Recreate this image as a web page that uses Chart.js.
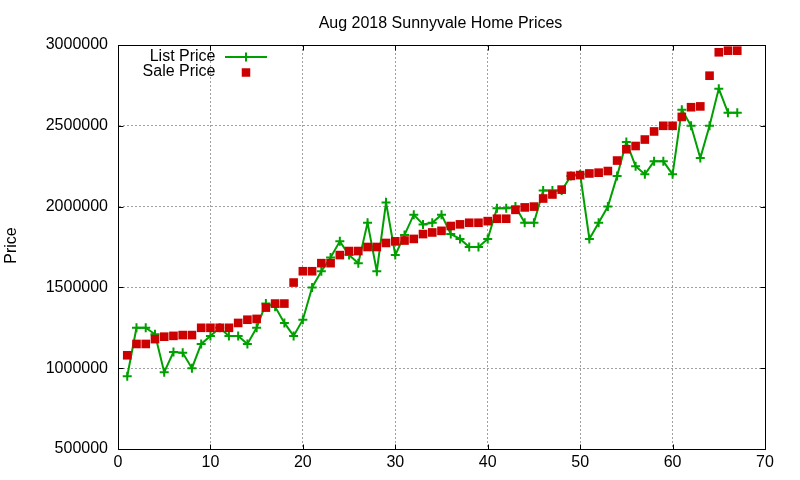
<!DOCTYPE html>
<html>
<head>
<meta charset="utf-8">
<script src="https://cdn.jsdelivr.net/npm/chart.js@4/dist/chart.umd.min.js"></script>
<style>
  body { margin: 0; background: #fff; }
</style>
</head>
<body>
<canvas id="chart" width="800" height="480"></canvas>
<script>
// chart data
const days = [1, 2, 3, 4, 5, 6, 7, 8, 9, 10, 11, 12, 13, 14, 15, 16, 17, 18, 19, 20,
  21, 22, 23, 24, 25, 26, 27, 28, 29, 30, 31, 32, 33, 34, 35, 36, 37, 38, 39, 40,
  41, 42, 43, 44, 45, 46, 47, 48, 49, 50, 51, 52, 53, 54, 55, 56, 57, 58, 59, 60,
  61, 62, 63, 64, 65, 66, 67];

const listPrice = [950000, 1250000, 1250000, 1210000, 975000, 1100000, 1095000, 1000000, 1150000, 1200000,
  1250000, 1200000, 1200000, 1150000, 1250000, 1400000, 1380000, 1280000, 1200000, 1300000,
  1500000, 1600000, 1685000, 1785000, 1700000, 1650000, 1900000, 1600000, 2025000, 1700000,
  1825000, 1950000, 1890000, 1900000, 1950000, 1830000, 1800000, 1750000, 1750000, 1800000,
  1990000, 1990000, 2000000, 1900000, 1900000, 2100000, 2100000, 2100000, 2190000, 2200000,
  1800000, 1900000, 2000000, 2190000, 2400000, 2250000, 2200000, 2280000, 2280000, 2200000,
  2600000, 2500000, 2300000, 2500000, 2730000, 2580000, 2580000];

const salePrice = [1080000, 1150000, 1150000, 1180000, 1195000, 1200000, 1205000, 1205000, 1250000, 1250000,
  1250000, 1250000, 1280000, 1300000, 1305000, 1375000, 1400000, 1400000, 1530000, 1600000,
  1600000, 1650000, 1650000, 1700000, 1725000, 1725000, 1750000, 1750000, 1775000, 1785000,
  1790000, 1800000, 1830000, 1840000, 1850000, 1880000, 1890000, 1900000, 1900000, 1910000,
  1925000, 1925000, 1980000, 1995000, 2000000, 2050000, 2075000, 2105000, 2190000, 2195000,
  2205000, 2210000, 2220000, 2285000, 2355000, 2375000, 2415000, 2465000, 2500000, 2500000,
  2555000, 2615000, 2620000, 2810000, 2955000, 2965000, 2965000];

const xTicks = [0, 10, 20, 30, 40, 50, 60, 70];
const yTicks = [500000, 1000000, 1500000, 2000000, 2500000, 3000000];

const chartTitle = 'Aug 2018 Sunnyvale Home Prices';
const yLabel = 'Price';
const seriesNames = ['List Price', 'Sale Price'];

// colors
const green = '#00a000';
const red = '#cc0000';
const gridColor = '#a0a0a0';
const font = 'Liberation Sans, Arial, sans-serif';

const toPoints = vals => vals.map((v, i) => ({ x: days[i], y: v }));

// gnuplot style frame, inward ticks, title, y label and key
const gnuplotDecor = {
  id: 'gnuplotDecor',
  afterDraw(chart) {
    const ctx = chart.ctx;
    const { left, right, top, bottom } = chart.chartArea;
    const xs = chart.scales.x, ys = chart.scales.y;
    const L = Math.round(left) + 0.5, R = Math.round(right) + 0.5;
    const T = Math.round(top) + 0.5, B = Math.round(bottom) + 0.5;

    ctx.save();
    ctx.strokeStyle = '#000';
    ctx.lineWidth = 1;
    ctx.setLineDash([]);
    ctx.strokeRect(L, T, R - L, B - T);

    ctx.beginPath();
    yTicks.forEach(v => {
      const y = Math.round(ys.getPixelForValue(v)) + 0.5;
      ctx.moveTo(L, y); ctx.lineTo(L + 5, y);
      ctx.moveTo(R, y); ctx.lineTo(R - 5, y);
    });
    xTicks.forEach(v => {
      const x = Math.round(xs.getPixelForValue(v)) + 0.5;
      ctx.moveTo(x, B); ctx.lineTo(x, B - 5);
      ctx.moveTo(x, T); ctx.lineTo(x, T + 5);
    });
    ctx.stroke();

    ctx.fillStyle = '#000';
    ctx.font = '16px ' + font;
    ctx.textAlign = 'center';
    ctx.textBaseline = 'alphabetic';
    ctx.fillText(chartTitle, 440.5, 28);

    ctx.save();
    ctx.translate(15.5, 245.5);
    ctx.rotate(-Math.PI / 2);
    ctx.fillText(yLabel, 0, 0);
    ctx.restore();

    // key
    ctx.textAlign = 'right';
    ctx.fillText(seriesNames[0], 215.5, 61);
    ctx.fillText(seriesNames[1], 215.5, 76);

    ctx.strokeStyle = green;
    ctx.lineWidth = 2;
    ctx.beginPath();
    ctx.moveTo(225, 57); ctx.lineTo(267, 57);
    ctx.moveTo(246, 52.5); ctx.lineTo(246, 61.5);
    ctx.stroke();

    ctx.fillStyle = red;
    ctx.fillRect(241.75, 68.25, 8.5, 8.5);
    ctx.restore();
  }
};

new Chart(document.getElementById('chart'), {
  type: 'line',
  data: {
    datasets: [{
      label: seriesNames[1],
      data: toPoints(salePrice),
      showLine: false,
      pointStyle: 'rect',
      pointRadius: 6.1,
      pointBackgroundColor: red,
      pointBorderWidth: 0,
      pointBorderColor: red
    }, {
      label: seriesNames[0],
      data: toPoints(listPrice),
      borderColor: green,
      borderWidth: 2,
      tension: 0,
      fill: false,
      pointStyle: 'cross',
      pointRadius: 4.5,
      pointBorderWidth: 2,
      pointBorderColor: green
    }]
  },
  options: {
    responsive: false,
    animation: false,
    devicePixelRatio: 1,
    layout: { padding: { top: 45, right: 35, bottom: 0, left: 0 } },
    plugins: {
      legend: { display: false },
      title: { display: false },
      tooltip: { enabled: false }
    },
    scales: {
      x: {
        type: 'linear',
        min: 0,
        max: 70,
        afterFit: s => { s.height = 31; },
        afterBuildTicks: s => { s.ticks = xTicks.map(v => ({ value: v })); },
        ticks: { color: '#000', font: { family: font, size: 16 }, padding: 4 },
        grid: { color: gridColor, lineWidth: 1, drawTicks: false },
        border: { display: true, color: '#000', width: 1, dash: [2, 2] }
      },
      y: {
        type: 'linear',
        min: 500000,
        max: 3000000,
        afterFit: s => { s.width = 118; },
        afterBuildTicks: s => { s.ticks = yTicks.map(v => ({ value: v })); },
        ticks: { color: '#000', font: { family: font, size: 16 }, padding: 10,
          callback: v => String(v) },
        grid: { color: gridColor, lineWidth: 1, drawTicks: false },
        border: { display: true, color: '#000', width: 1, dash: [2, 2] }
      }
    }
  },
  plugins: [gnuplotDecor]
});
</script>
</body>
</html>
